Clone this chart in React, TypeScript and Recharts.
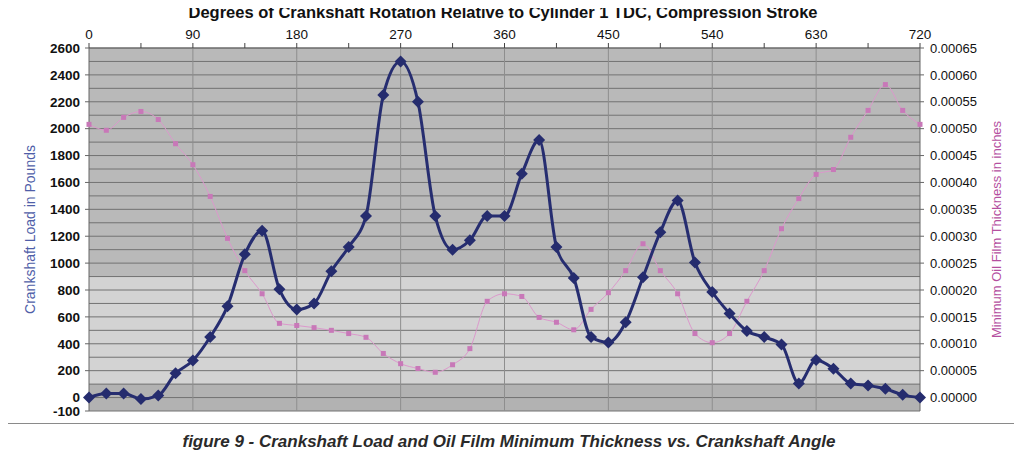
import { ComposedChart, Line, XAxis, YAxis, ReferenceArea, ReferenceLine } from "recharts";

const degrees = [
  0, 15, 30, 45, 60, 75, 90, 105, 120, 135, 150, 165, 180, 195, 210, 225, 240,
  255, 270, 285, 300, 315, 330, 345, 360, 375, 390, 405, 420, 435, 450, 465, 480,
  495, 510, 525, 540, 555, 570, 585, 600, 615, 630, 645, 660, 675, 690, 705, 720,
];

// crankshaft load, pounds
const crankLoad = [
  0, 30, 30, -10, 15, 180, 275, 450, 680, 1065, 1240, 805, 655, 700, 940, 1120, 1350,
  2250, 2500, 2200, 1350, 1100, 1170, 1350, 1350, 1665, 1915, 1120, 890, 450, 410, 560, 895,
  1230, 1465, 1005, 785, 625, 495, 450, 395, 105, 280, 215, 105, 90, 65, 20, 0,
];

// minimum oil film thickness, inches
const filmThickness = [
  0.000508, 0.000497, 0.000521, 0.000532, 0.000517, 0.000472, 0.000433, 0.000374, 0.000296,
  0.000236, 0.000193, 0.000138, 0.000134, 0.00013, 0.000125, 0.000119, 0.000112,
  0.000082, 0.000063, 0.000054, 0.000047, 0.000061, 0.000091, 0.000179, 0.000193,
  0.000188, 0.000149, 0.00014, 0.000126, 0.000164, 0.000195, 0.000236, 0.000286,
  0.000236, 0.000193, 0.000119, 0.000102, 0.000119, 0.000179, 0.000236, 0.000314,
  0.00037, 0.000415, 0.000424, 0.000484, 0.000534, 0.000582, 0.000534, 0.000508,
];

const angleTicks = [0, 45, 90, 135, 180, 225, 270, 315, 360, 405, 450, 495, 540, 585, 630, 675, 720];
const angleGrid = [90, 180, 270, 360, 450, 540, 630];
const loadTicks = [-100, 0, 200, 400, 600, 800, 1000, 1200, 1400, 1600, 1800, 2000, 2200, 2400, 2600];
const loadGrid = [
  -100, 0, 100, 200, 300, 400, 500, 600, 700, 800, 900, 1000, 1100, 1200, 1300, 1400,
  1500, 1600, 1700, 1800, 1900, 2000, 2100, 2200, 2300, 2400, 2500, 2600,
];
const filmTicks = [
  0, 0.00005, 0.0001, 0.00015, 0.0002, 0.00025, 0.0003, 0.00035, 0.0004, 0.00045,
  0.0005, 0.00055, 0.0006, 0.00065,
];

const data = degrees.map((deg, i) => ({ deg, load: crankLoad[i], film: filmThickness[i] }));

const Diamond = (props: any) => {
  const { cx, cy, index } = props;
  if (cx == null || cy == null) return null;
  const r = 6;
  return (
    <polygon
      key={`dm-${index}`}
      points={`${cx},${cy - r} ${cx + r},${cy} ${cx},${cy + r} ${cx - r},${cy}`}
      fill="#252c6e"
    />
  );
};

const Square = (props: any) => {
  const { cx, cy, index } = props;
  if (cx == null || cy == null) return null;
  return <rect key={`sq-${index}`} x={cx - 2.5} y={cy - 2.5} width={5} height={5} fill="#c878b8" />;
};

export default function App() {
  return (
    <div
      style={{
        position: "relative",
        width: 1022,
        height: 458,
        margin: -8,
        background: "#fff",
        fontFamily: "Arial, 'Liberation Sans', sans-serif",
      }}
    >
      <div
        style={{
          position: "absolute",
          left: 2,
          top: 2,
          width: 1015,
          height: 420,
          border: "1px solid #8a8a8a",
        }}
      />
      <div
        style={{
          position: "absolute",
          top: 3,
          left: 0,
          width: 1006,
          textAlign: "center",
          fontWeight: "bold",
          fontSize: 16.5,
          color: "#111",
        }}
      >
        Degrees of Crankshaft Rotation Relative to Cylinder 1 TDC, Compression Stroke
      </div>
      <div style={{ position: "absolute", left: 0, top: 0 }}>
        <ComposedChart width={1022} height={424} data={data} margin={{ top: 24, right: 20, bottom: 13, left: 20 }}>
          <XAxis
            dataKey="deg"
            type="number"
            orientation="top"
            domain={[0, 720]}
            ticks={angleTicks}
            interval={0}
            height={24}
            tickSize={5}
            tickMargin={4}
            tickFormatter={(v: number) => (v % 90 === 0 ? String(v) : "")}
            tick={{ fontSize: 13.5, fill: "#111" }}
            axisLine={{ stroke: "#666" }}
            tickLine={{ stroke: "#444" }}
          />
          <YAxis
            yAxisId="left"
            domain={[-100, 2600]}
            ticks={loadTicks}
            interval={0}
            width={69}
            tickSize={4}
            tickMargin={5}
            tick={{ fontSize: 13.5, fontWeight: "bold", fill: "#111" }}
            axisLine={{ stroke: "#666" }}
            tickLine={{ stroke: "#666" }}
            label={{
              value: "Crankshaft Load in Pounds",
              angle: -90,
              position: "insideLeft",
              offset: 10,
              style: { textAnchor: "middle", fill: "#4f5ea8", fontSize: 14 },
            }}
          />
          <YAxis
            yAxisId="right"
            orientation="right"
            domain={[-0.000025, 0.00065]}
            ticks={filmTicks}
            interval={0}
            width={82}
            tickSize={4}
            tickMargin={6}
            tickFormatter={(v: number) => v.toFixed(5)}
            tick={{ fontSize: 13, fill: "#111" }}
            axisLine={{ stroke: "#666" }}
            tickLine={{ stroke: "#666" }}
            label={{
              value: "Minimum Oil Film Thickness in inches",
              angle: -90,
              position: "insideRight",
              offset: 6,
              style: { textAnchor: "middle", fill: "#b5509f", fontSize: 13 },
            }}
          />
          <ReferenceArea yAxisId="left" x1={0} x2={720} y1={900} y2={2600} fill="#b9b9b9" fillOpacity={1} stroke="none" />
          <ReferenceArea yAxisId="left" x1={0} x2={720} y1={100} y2={900} fill="#d3d3d3" fillOpacity={1} stroke="none" />
          <ReferenceArea yAxisId="left" x1={0} x2={720} y1={-100} y2={100} fill="#b2b2b2" fillOpacity={1} stroke="none" />
          {loadGrid.map((v) => (
            <ReferenceLine key={`h-${v}`} yAxisId="left" y={v} stroke="#727272" strokeWidth={1} />
          ))}
          {angleGrid.map((v) => (
            <ReferenceLine key={`v-${v}`} yAxisId="left" x={v} stroke="#8e8e8e" strokeWidth={1} />
          ))}
          <Line
            yAxisId="right"
            type="monotone"
            dataKey="film"
            stroke="#dc98cc"
            strokeWidth={1}
            dot={<Square />}
            activeDot={false}
            isAnimationActive={false}
          />
          <Line
            yAxisId="left"
            type="monotone"
            dataKey="load"
            stroke="#262d70"
            strokeWidth={3}
            dot={<Diamond />}
            activeDot={false}
            isAnimationActive={false}
          />
        </ComposedChart>
      </div>
      <div
        style={{
          position: "absolute",
          top: 432,
          left: 0,
          width: 1018,
          textAlign: "center",
          fontWeight: "bold",
          fontStyle: "italic",
          fontSize: 17,
          color: "#2a2a2a",
        }}
      >
        figure 9 - Crankshaft Load and Oil Film Minimum Thickness vs. Crankshaft Angle
      </div>
    </div>
  );
}
